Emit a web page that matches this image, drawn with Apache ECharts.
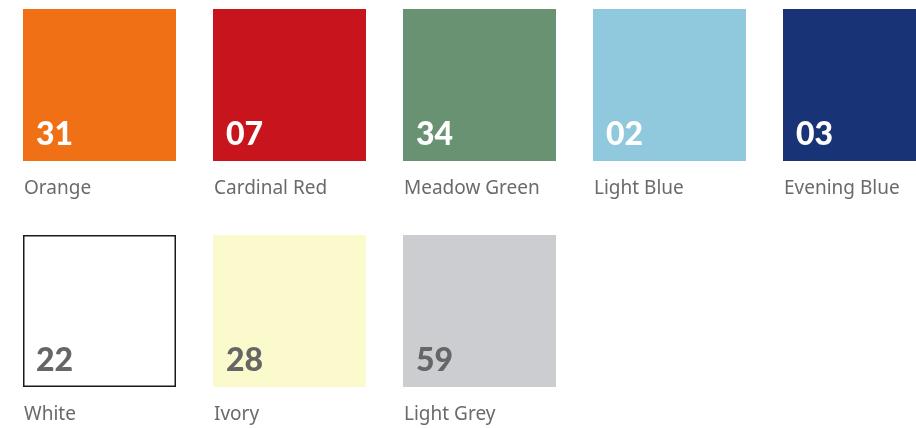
<!DOCTYPE html>
<html>
<head>
<meta charset="utf-8">
<script src="https://cdn.jsdelivr.net/npm/echarts@6/dist/echarts.min.js"></script>
<style>html,body{margin:0;padding:0;background:#fff;}#c{width:916px;height:428px;}</style>
</head>
<body>
<div id="c"></div>
<script>
const names = ['Orange', 'Cardinal Red', 'Meadow Green', 'Light Blue', 'Evening Blue', 'White', 'Ivory', 'Light Grey'];
const codes = ['31', '07', '34', '02', '03', '22', '28', '59'];
const swatchColors = ['#F07016', '#C8151D', '#689272', '#90C9DE', '#183477', '#FFFFFF', '#FBFACC', '#CCCDD0'];
const perRow = 5;

function lum(hex) {
  const n = parseInt(hex.slice(1), 16);
  return (0.299 * ((n >> 16) & 255) + 0.587 * ((n >> 8) & 255) + 0.114 * (n & 255)) / 255;
}

const data = names.map((n, i) => [i % perRow, Math.floor(i / perRow), i]);

const chart = echarts.init(document.getElementById('c'));
chart.setOption({
  animation: false,
  grid: { left: 23, top: 9, right: 0, bottom: 0 },
  xAxis: { type: 'value', min: 0, max: 893 / 190, show: false },
  yAxis: { type: 'value', min: 0, max: 419 / 226, inverse: true, show: false },
  series: [{
    type: 'custom',
    data: data,
    clip: false,
    renderItem: function (params, api) {
      const i = api.value(2);
      const p = api.coord([api.value(0), api.value(1)]);
      const col = swatchColors[i];
      const isWhite = col.toUpperCase() === '#FFFFFF';
      const light = lum(col) > 0.77;
      return {
        type: 'group',
        children: [
          {
            type: 'rect',
            shape: isWhite ? { x: p[0] + 0.75, y: p[1] + 0.75, width: 151.5, height: 150.5 } : { x: p[0], y: p[1], width: 153, height: 152 },
            style: { fill: col, stroke: isWhite ? '#1a1a1a' : null, lineWidth: isWhite ? 1.5 : 0 }
          },
          {
            type: 'text',
            x: p[0] + 13, y: p[1] + 126,
            style: {
              text: codes[i], fill: light ? '#666666' : '#ffffff',
              font: '900 32px Lato', verticalAlign: 'middle', align: 'left'
            }
          },
          {
            type: 'text',
            x: p[0] + 1, y: p[1] + 180,
            style: {
              text: names[i], fill: '#6a6a6a',
              font: '19px "Noto Sans"', verticalAlign: 'middle', align: 'left'
            }
          }
        ]
      };
    }
  }]
});
</script>
</body>
</html>
